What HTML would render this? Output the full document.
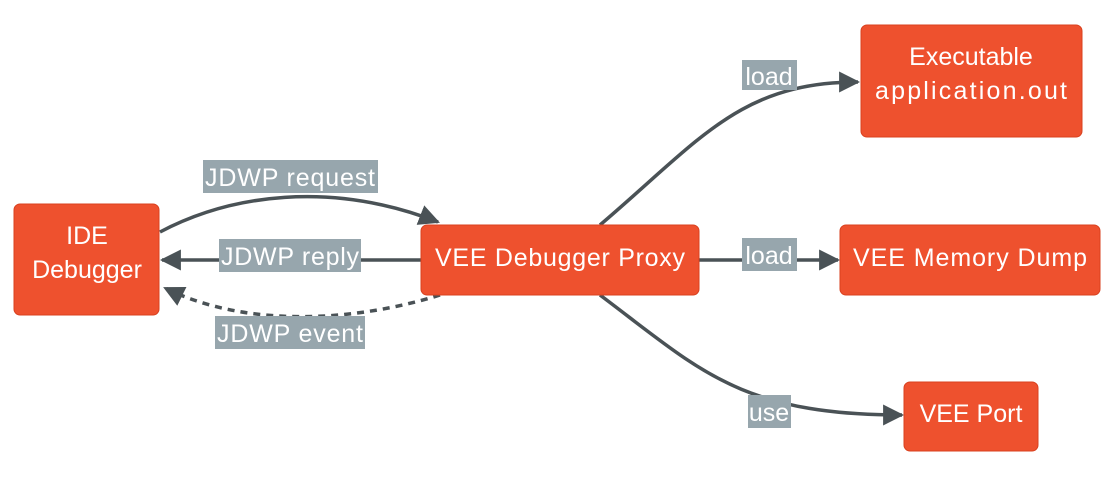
<!DOCTYPE html>
<html><head><style>
body{margin:0;background:#fff;width:1116px;height:480px;overflow:hidden}
svg text{font-family:"Liberation Sans","DejaVu Sans",sans-serif;font-size:25px;fill:#fff}
</style></head><body>
<svg width="1116" height="480" viewBox="0 0 1116 480">
<defs>
<marker id="a" viewBox="0 0 10 10" refX="9" refY="5" markerWidth="6" markerHeight="6" orient="auto-start-reverse" markerUnits="strokeWidth">
<path d="M0,0 L10,5 L0,10 z" fill="#4a5256"/></marker>
</defs>
<g fill="none" stroke="#4a5256" stroke-width="3.5">
<path d="M160,232 C230,195 330,180 438,222" marker-end="url(#a)"/>
<path d="M421,260 L162,260" marker-end="url(#a)"/>
<path d="M440,295 C360,320 250,330 165,288" stroke-dasharray="7,6" marker-end="url(#a)"/>
<path d="M600,225 C700,140 740,82 858,82" marker-end="url(#a)"/>
<path d="M699,260 L838,260" marker-end="url(#a)"/>
<path d="M600,295 C700,370 740,415 902,415" marker-end="url(#a)"/>
</g>
<g fill="#97a6ad">
<rect x="203" y="160" width="175" height="33"/>
<rect x="219" y="239" width="142" height="33"/>
<rect x="215" y="316" width="150" height="33"/>
<rect x="742" y="60" width="55" height="30"/>
<rect x="742" y="238" width="55" height="33"/>
<rect x="748" y="395" width="43" height="33"/>
</g>
<g text-anchor="middle">
<text x="290" y="186" textLength="170">JDWP request</text>
<text x="290" y="265" textLength="138">JDWP reply</text>
<text x="290" y="342" textLength="146">JDWP event</text>
<text x="769" y="85">load</text>
<text x="769" y="264">load</text>
<text x="769" y="421">use</text>
</g>
<g fill="#ee512e" stroke="#d9411f" stroke-width="1">
<rect x="14" y="204" width="145" height="111" rx="6"/>
<rect x="421" y="225" width="278" height="70" rx="6"/>
<rect x="861" y="25" width="221" height="112" rx="6"/>
<rect x="840" y="225" width="260" height="70" rx="6"/>
<rect x="904" y="382" width="134" height="69" rx="6"/>
</g>
<g text-anchor="middle">
<text x="87" y="244">IDE</text>
<text x="87" y="278">Debugger</text>
<text x="560" y="266" textLength="250">VEE Debugger Proxy</text>
<text x="971" y="65">Executable</text>
<text x="971" y="99" textLength="192">application.out</text>
<text x="970" y="266" textLength="234">VEE Memory Dump</text>
<text x="971" y="422">VEE Port</text>
</g>
</svg>
</body></html>
